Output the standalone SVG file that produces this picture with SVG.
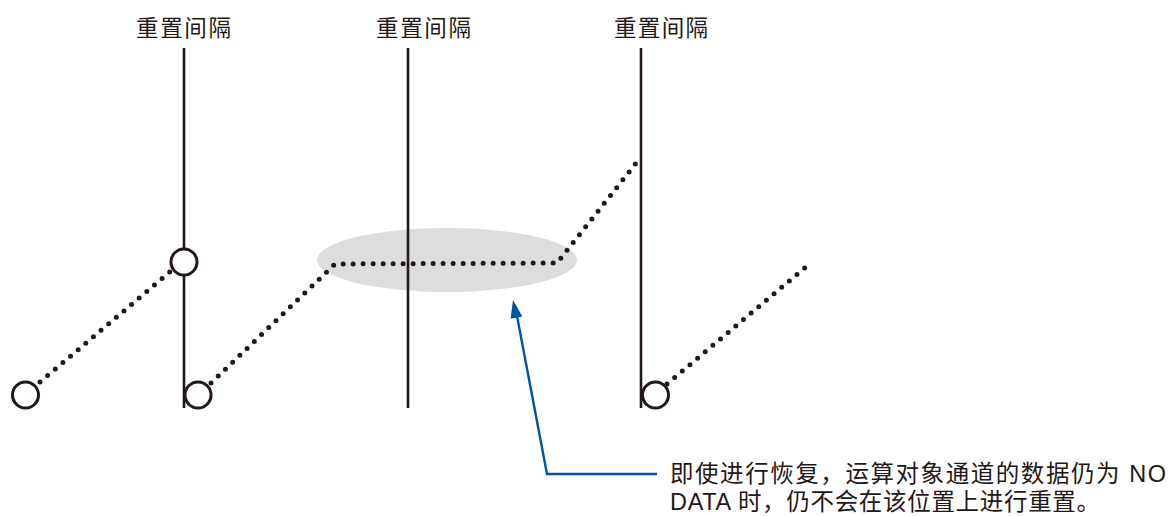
<svg xmlns="http://www.w3.org/2000/svg" width="1168" height="516" viewBox="0 0 1168 516">
<style>
.lbl{font-family:"Liberation Sans","Noto Sans CJK SC",sans-serif;font-size:22.5px;fill:#231815}
.note{font-family:"Liberation Sans","Noto Sans CJK SC",sans-serif;font-size:23.5px;fill:#231815}
.vline{stroke:#231815;stroke-width:2.6;fill:none}
.dots{stroke:#231815;stroke-width:5;stroke-linecap:round;stroke-dasharray:0 10;fill:none}
.pt{fill:#fff;stroke:#231815;stroke-width:3}
.callout{stroke:#0054a6;stroke-width:2.4;fill:none}
</style>
<rect width="1168" height="516" fill="#fff"/>
<g id="highlight">
<ellipse cx="447" cy="260" rx="130" ry="32" fill="#dcdddd"/>
</g>
<g id="reset1">
<text class="lbl" x="136" y="36" textLength="95" lengthAdjust="spacing">重置间隔</text>
<line class="vline" x1="184" y1="48" x2="184" y2="408"/>
</g>
<g id="reset2">
<text class="lbl" x="376" y="36" textLength="95" lengthAdjust="spacing">重置间隔</text>
<line class="vline" x1="408" y1="48" x2="408" y2="408"/>
</g>
<g id="reset3">
<text class="lbl" x="614" y="36" textLength="94" lengthAdjust="spacing">重置间隔</text>
<line class="vline" x1="641" y1="48" x2="641" y2="408"/>
</g>
<g id="connectors">
<path class="dots" d="M40,382 L171,271"/>
<path class="dots" d="M211,383 L335,264 L557,263 L637,162"/>
<path class="dots" d="M667,384 L807,266"/>
<path class="callout" d="M657,474 L547,474 L517,316"/>
<polygon points="513,300 522.4,316.5 510.6,318.8" fill="#0054a6"/>
</g>
<g id="points">
<circle class="pt" cx="25.5" cy="395" r="13"/>
<circle class="pt" cx="184" cy="262" r="13"/>
<circle class="pt" cx="198" cy="395" r="13"/>
<circle class="pt" cx="655.5" cy="395" r="13"/>
</g>
<g id="note">
<text class="note" x="670" y="482" textLength="496" lengthAdjust="spacing">即使进行恢复，运算对象通道的数据仍为 NO</text>
<text class="note" x="670" y="510" textLength="430" lengthAdjust="spacing">DATA 时，仍不会在该位置上进行重置。</text>
</g>
</svg>
